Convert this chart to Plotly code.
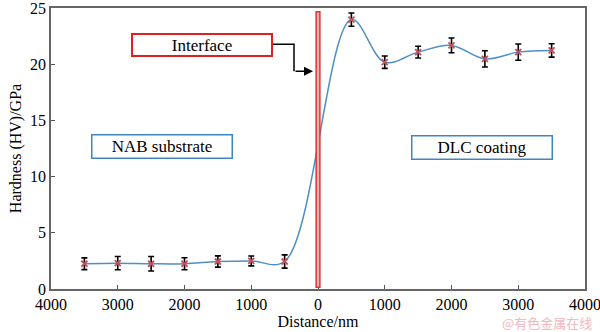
import plotly.graph_objects as go

distance = [-3500, -3000, -2500, -2000, -1500, -1000, -500, 500, 1000, 1500, 2000, 2500, 3000, 3500]
hardness = [2.25, 2.3, 2.25, 2.25, 2.45, 2.5, 2.45, 24.0, 20.2, 21.1, 21.7, 20.5, 21.1, 21.25]
error = [0.52, 0.59, 0.64, 0.53, 0.5, 0.44, 0.59, 0.59, 0.55, 0.52, 0.66, 0.72, 0.72, 0.6]
tick_vals = [-4000, -3000, -2000, -1000, 0, 1000, 2000, 3000, 4000]
tick_text = ["4000", "3000", "2000", "1000", "0", "1000", "2000", "3000", "4000"]
y_ticks = [0, 5, 10, 15, 20, 25]

FONT = "'Liberation Serif', 'Times New Roman', serif"

L, R, T, B = 51, 15, 8, 43
PW, PH = 600 - L - R, 332 - T - B

fig = go.Figure()
fig.add_trace(go.Scatter(x=distance, y=hardness, mode="lines",
                         line=dict(color="#4e8fc6", width=1.5, shape="spline", smoothing=1.0),
                         hoverinfo="skip", showlegend=False))
fig.add_trace(go.Scatter(x=distance, y=hardness, mode="markers",
                         marker=dict(symbol="x-thin", size=6, line=dict(color="#c0505a", width=1.8)),
                         error_y=dict(type="data", array=error, color="black", thickness=1.6, width=3),
                         showlegend=False))

def px2x(px):
    return (px - L) / PW * 8000 - 4000

def px2y(py):
    return (332 - B - py) / PH * 25

shapes = [
    dict(type="rect", xref="x", yref="y", x0=-28, x1=28, y0=0.15, y1=24.7,
         line=dict(color="#e23434", width=1.5), fillcolor="#f6b0b0"),
    dict(type="path", xref="x", yref="y",
         path=f"M {px2x(273)} {px2y(44)} L {px2x(294)} {px2y(44)} L {px2x(294)} {px2y(71)}",
         line=dict(color="black", width=1.5)),
]

annotations = [
    dict(x=px2x(313), y=px2y(71), ax=px2x(294), ay=px2y(71), axref="x", ayref="y",
         xref="x", yref="y", text="", showarrow=True, arrowhead=2, arrowsize=1.2,
         arrowwidth=1.5, arrowcolor="black"),
    dict(x=px2x(202), y=px2y(45), xref="x", yref="y", text="Interface", showarrow=False,
         font=dict(family=FONT, size=17, color="black"), width=138, height=20,
         bordercolor="#e02020", borderwidth=2, borderpad=0, bgcolor="white"),
    dict(x=px2x(162), y=px2y(146.5), xref="x", yref="y", text="NAB substrate", showarrow=False,
         font=dict(family=FONT, size=17, color="black"), width=139, height=22,
         bordercolor="#3f86c0", borderwidth=1.5, borderpad=0, bgcolor="white"),
    dict(x=px2x(482), y=px2y(147.5), xref="x", yref="y", text="DLC coating", showarrow=False,
         font=dict(family=FONT, size=17, color="black"), width=139, height=22,
         bordercolor="#3f86c0", borderwidth=1.5, borderpad=0, bgcolor="white"),
    dict(x=1, y=0, xref="paper", yref="paper", xanchor="right", yanchor="middle", yshift=-33,
         xshift=9, text="@有色金属在线", showarrow=False,
         font=dict(family="Noto Sans CJK SC", size=13, color="#f2b8bc")),
]

fig.update_layout(
    width=600, height=332,
    margin=dict(l=L, r=R, t=T, b=B, autoexpand=False),
    paper_bgcolor="white", plot_bgcolor="white",
    font=dict(family=FONT, size=16, color="black"),
    shapes=shapes, annotations=annotations,
    xaxis=dict(range=[-4000, 4000], tickvals=tick_vals, ticktext=tick_text,
               ticks="inside", ticklen=4, tickcolor="#555", showgrid=False, zeroline=False,
               showline=True, linecolor="#666", linewidth=1.5, mirror=True,
               ticklabeloverflow="allow", automargin=False,
               title=dict(text="Distance/nm", standoff=2, font=dict(family=FONT, size=16)),
               tickfont=dict(family=FONT, size=16)),
    yaxis=dict(range=[0, 25.03], tickvals=y_ticks,
               ticks="inside", ticklen=4, tickcolor="#555", showgrid=False, zeroline=False,
               showline=True, linecolor="#666", linewidth=1.5, mirror=True,
               ticklabeloverflow="allow", automargin=False,
               title=dict(text="Hardness (HV)/GPa", standoff=4, font=dict(family=FONT, size=16)),
               tickfont=dict(family=FONT, size=16)),
)

fig.write_html("out.html")
